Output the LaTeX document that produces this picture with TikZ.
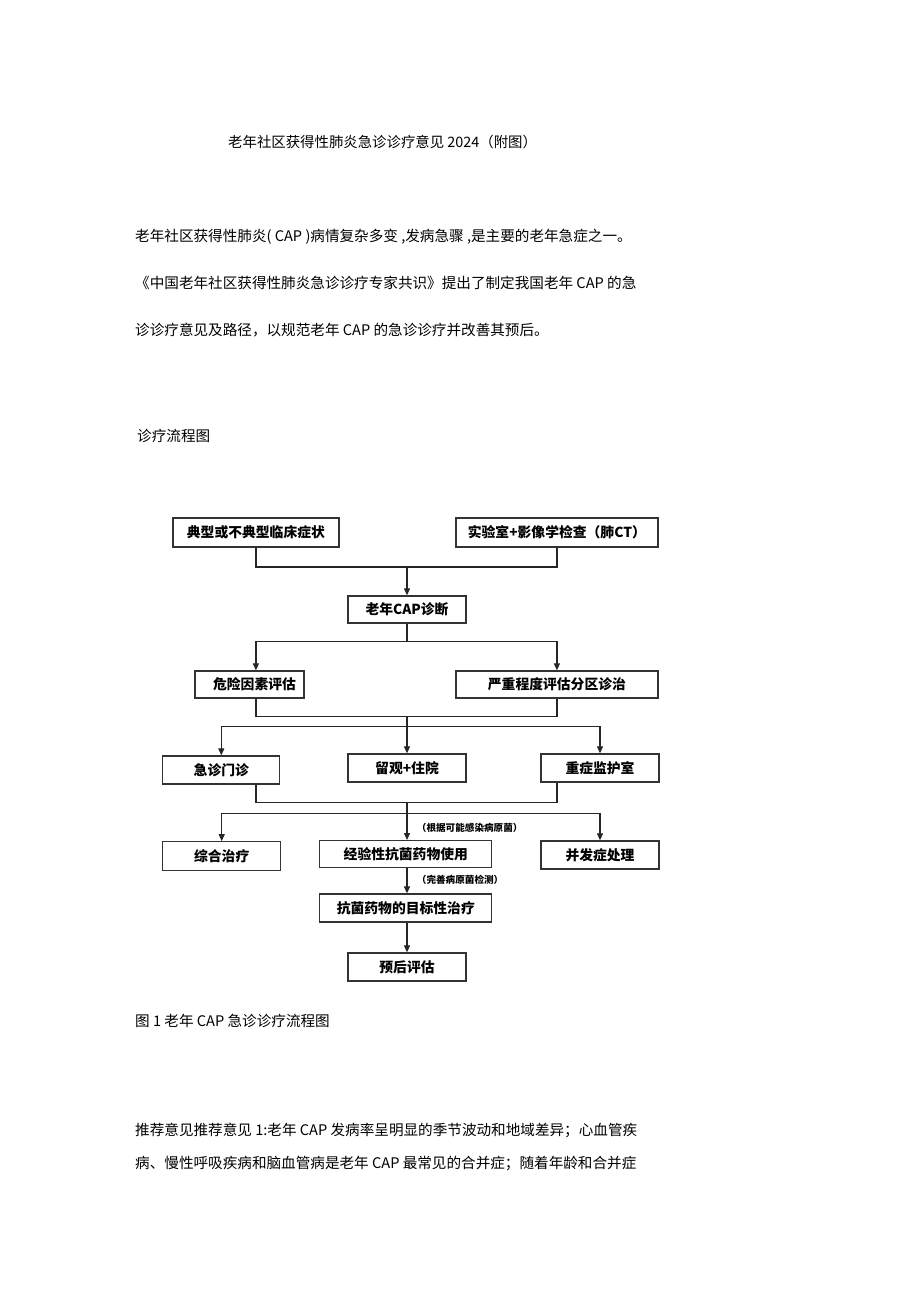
\documentclass[tikz,border=0pt]{standalone}
\usepackage{fontspec}
\newfontfamily\cjk{Noto Sans CJK SC}
\usetikzlibrary{arrows.meta, positioning, calc}
\tikzset{
  txt/.style={anchor=west, inner sep=0pt, font=\cjk\fontsize{14.6}{16}\selectfont},
  box/.style={rectangle, draw=black!80, line width=1.3pt, inner sep=0pt, text centered, font=\cjk\bfseries\fontsize{13.8}{14}\selectfont},
  note/.style={anchor=west, inner sep=0pt, font=\cjk\bfseries\fontsize{9.6}{10}\selectfont},
  link/.style={line width=1.25pt, draw=black!85},
  arrow/.style={link, -{Triangle[length=7pt,width=6pt]}}
}

\begin{document}
\begin{tikzpicture}[x=1pt, y=-1pt]
    % Pagina completa en blanco
    \useasboundingbox[fill=white] (0,0) rectangle (920,1301);

    % Texto de arriba
    \node[txt, font=\cjk\fontsize{14.4}{16}\selectfont] (title) at (228,141.7) {老年社区获得性肺炎急诊诊疗意见 2024（附图）};
    \node[txt] (p1) at (135,236.7) {老年社区获得性肺炎( CAP )病情复杂多变 ,发病急骤 ,是主要的老年急症之一。};
    \node[txt] (p2) at (135,283.3) {《中国老年社区获得性肺炎急诊诊疗专家共识》提出了制定我国老年 CAP 的急};
    \node[txt] (p3) at (135,330) {诊诊疗意见及路径，以规范老年 CAP 的急诊诊疗并改善其预后。};
    \node[txt] (head) at (137,435.7) {诊疗流程图};

    % Cajas del diagrama
    \node[box, minimum width=166pt, minimum height=29pt] (sym) at (255.9,532.5) {典型或不典型临床症状};
    \node[box, minimum width=202pt, minimum height=29pt] (lab) at (556.9,532.5) {实验室+影像学检查（肺CT）};
    \node[box, minimum width=118pt, minimum height=27pt] (diag) at (407,609.5) {老年CAP诊断};
    \node[box, minimum width=109pt, minimum height=27pt] (risk) at (249.5,684.5) {\hspace{10pt}危险因素评估};
    \node[box, minimum width=202pt, minimum height=27pt] (sev) at (556.9,684.5) {严重程度评估分区诊治};
    \node[box, minimum width=117pt, minimum height=28pt] (er) at (221.3,770) {急诊门诊};
    \node[box, minimum width=118pt, minimum height=28pt] (obs) at (407,768) {留观+住院};
    \node[box, minimum width=118pt, minimum height=28pt] (icu) at (600,768) {重症监护室};
    \node[box, minimum width=118pt, minimum height=29pt] (gen) at (221.7,856.3) {综合治疗};
    \node[box, minimum width=172pt, minimum height=27pt] (emp) at (405.8,854.2) {经验性抗菌药物使用};
    \node[box, minimum width=118pt, minimum height=28pt] (cx) at (600,855) {并发症处理};
    \node[box, minimum width=172pt, minimum height=28pt] (tgt) at (405.8,908) {抗菌药物的目标性治疗};
    \node[box, minimum width=118pt, minimum height=28pt] (prog) at (407,967) {预后评估};

    % Puntos de union
    \coordinate (m1) at (407,567);
    \coordinate (m2) at (407,641.7);
    \coordinate (m3) at (407,716.7);
    \coordinate (m4) at (407,726.7);
    \coordinate (m5) at (407,802.7);
    \coordinate (m6) at (407,813.3);

    % Conectores
    \draw[link] (sym.south) |- (m1) -| (lab.south);
    \draw[arrow] (m1) -- (diag.north);
    \draw[link] (diag.south) -- (m2);
    \draw[arrow] (m2) -| (risk.north -| sym.south);
    \draw[arrow] (m2) -| (sev.north);
    \draw[link] (risk.south -| sym.south) |- (m3) -| (sev.south);
    \draw[link] (m3) -- (m4);
    \draw[arrow] (m4) -| (er.north);
    \draw[arrow] (m4) -- (obs.north);
    \draw[arrow] (m4) -| (icu.north);
    \draw[link] (er.south -| sym.south) |- (m5) -| (icu.south -| lab.south);
    \draw[link] (m5) -- (m6);
    \draw[arrow] (m6) -| (gen.north);
    \draw[arrow] (m6) -- (m6 |- emp.north);
    \draw[arrow] (m6) -| (cx.north);
    \draw[arrow] (emp.south -| m6) -- (tgt.north -| m6);
    \draw[arrow] (tgt.south -| m6) -- (prog.north);

    % Notas junto a las flechas
    \node[note] (why) at (416.7,827.7) {（根据可能感染病原菌）};
    \node[note] (test) at (416.7,880) {（完善病原菌检测）};

    % Texto de abajo
    \node[txt] (cap) at (135,1020.7) {图 1 老年 CAP 急诊诊疗流程图};
    \node[txt] (r1) at (135,1130) {推荐意见推荐意见 1:老年 CAP 发病率呈明显的季节波动和地域差异；心血管疾};
    \node[txt] (r2) at (135,1163.3) {病、慢性呼吸疾病和脑血管病是老年 CAP 最常见的合并症；随着年龄和合并症};
\end{tikzpicture}
\end{document}
